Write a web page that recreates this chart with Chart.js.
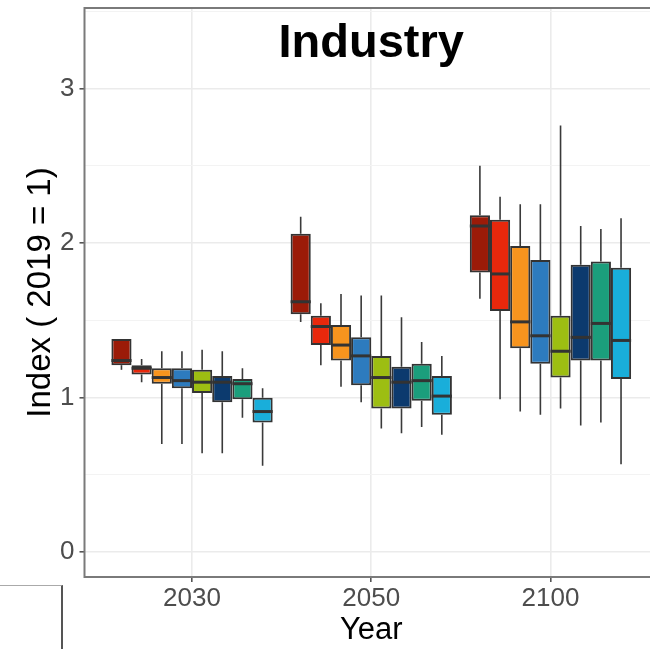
<!DOCTYPE html>
<html>
<head>
<meta charset="utf-8">
<script src="https://cdn.jsdelivr.net/npm/chart.js@4"></script>
<style>
  html, body { margin: 0; padding: 0; background: #fff; overflow: hidden; width: 650px; height: 649px; }
  #wrap { position: absolute; left: 0; top: 0; width: 660px; height: 649px; }
  #corner { position: absolute; left: 0; top: 585px; width: 61px; height: 80px;
            border-top: 1px solid #aaa; border-right: 2px solid #555; }
</style>
</head>
<body>
<div id="wrap"><canvas id="boxChart" width="660" height="649"></canvas></div>
<div id="corner"></div>
<script>
const years = ['2030', '2050', '2100'];
const seriesNames = ['S1', 'S2', 'S3', 'S4', 'S5', 'S6', 'S7', 'S8'];
const colors = ['#9B1B08', '#E8280C', '#F7941E', '#2D7BBE', '#9DBE12', '#0C3A6E', '#1B9E7C', '#19AEDA'];

// one row per series, one column per year
const whiskerLow = [
    [1.18, 1.49, 1.64],
    [1.10, 1.21, 0.99],
    [0.70, 1.07, 0.91],
    [0.70, 0.97, 0.89],
    [0.64, 0.80, 0.93],
    [0.64, 0.77, 0.82],
    [0.87, 0.81, 0.84],
    [0.56, 0.76, 0.57]
];
const lowerQuartile = [
    [1.21, 1.54, 1.81],
    [1.15, 1.34, 1.56],
    [1.09, 1.24, 1.32],
    [1.06, 1.08, 1.22],
    [1.03, 0.93, 1.13],
    [0.97, 0.93, 1.24],
    [0.99, 0.98, 1.24],
    [0.84, 0.89, 1.12]
];
const medians = [
    [1.24, 1.62, 2.11],
    [1.19, 1.46, 1.80],
    [1.13, 1.34, 1.49],
    [1.11, 1.27, 1.40],
    [1.10, 1.13, 1.30],
    [1.10, 1.10, 1.39],
    [1.09, 1.11, 1.48],
    [0.91, 1.01, 1.37]
];
const upperQuartile = [
    [1.38, 2.06, 2.18],
    [1.21, 1.53, 2.15],
    [1.19, 1.47, 1.98],
    [1.19, 1.39, 1.89],
    [1.18, 1.27, 1.53],
    [1.14, 1.20, 1.86],
    [1.12, 1.22, 1.88],
    [1.00, 1.14, 1.84]
];
const whiskerHigh = [
    [1.38, 2.17, 2.50],
    [1.25, 1.61, 2.30],
    [1.30, 1.67, 2.25],
    [1.30, 1.66, 2.25],
    [1.31, 1.66, 2.76],
    [1.30, 1.52, 2.11],
    [1.19, 1.36, 2.09],
    [1.06, 1.27, 2.16]
];
const yTicks = [0, 0.5, 1, 1.5, 2, 2.5, 3, 3.5];

const datasets = seriesNames.map((name, s) => ({
    label: name,
    data: years.map((y, i) => ({ x: i + 1, y: [lowerQuartile[s][i], upperQuartile[s][i]] })),
    backgroundColor: colors[s],
    borderColor: '#333333',
    borderWidth: 2,
    borderSkipped: false,
    categoryPercentage: 0.9,
    barPercentage: 1.0
}));

// whiskers, medians, panel border and the title
const boxExtras = {
    id: 'boxExtras',
    beforeDatasetsDraw(chart) {
        const ctx = chart.ctx;
        const yScale = chart.scales.y;
        ctx.save();
        ctx.strokeStyle = '#3a3a3a';
        ctx.lineWidth = 1.6;
        chart.data.datasets.forEach((ds, s) => {
            chart.getDatasetMeta(s).data.forEach((bar, i) => {
                ctx.beginPath();
                ctx.moveTo(bar.x, yScale.getPixelForValue(whiskerHigh[s][i]));
                ctx.lineTo(bar.x, yScale.getPixelForValue(upperQuartile[s][i]));
                ctx.moveTo(bar.x, yScale.getPixelForValue(lowerQuartile[s][i]));
                ctx.lineTo(bar.x, yScale.getPixelForValue(whiskerLow[s][i]));
                ctx.stroke();
            });
        });
        ctx.restore();
    },
    afterDatasetsDraw(chart) {
        const ctx = chart.ctx;
        const yScale = chart.scales.y;
        const area = chart.chartArea;
        ctx.save();
        ctx.strokeStyle = '#333333';
        ctx.lineWidth = 3;
        chart.data.datasets.forEach((ds, s) => {
            chart.getDatasetMeta(s).data.forEach((bar, i) => {
                const y = yScale.getPixelForValue(medians[s][i]);
                ctx.beginPath();
                ctx.moveTo(bar.x - bar.width / 2, y);
                ctx.lineTo(bar.x + bar.width / 2, y);
                ctx.stroke();
            });
        });
        ctx.strokeStyle = '#7a7a7a';
        ctx.lineWidth = 2;
        ctx.strokeRect(area.left, area.top, area.right - area.left, area.bottom - area.top);

        ctx.fillStyle = '#000';
        ctx.font = 'bold 47px "Liberation Sans", Arial, sans-serif';
        ctx.textAlign = 'center';
        ctx.textBaseline = 'alphabetic';
        ctx.fillText('Industry', (area.left + area.right) / 2, 57);
        ctx.restore();
    }
};

new Chart(document.getElementById('boxChart'), {
    type: 'bar',
    data: { datasets: datasets },
    options: {
        responsive: false,
        animation: false,
        layout: { autoPadding: false, padding: { top: 8, right: 2, left: 0, bottom: 0 } },
        plugins: { legend: { display: false }, tooltip: { enabled: false } },
        scales: {
            x: {
                type: 'linear',
                min: 0.4,
                max: 3.6,
                offset: false,
                afterBuildTicks: (scale) => { scale.ticks = years.map((y, i) => ({ value: i + 1 })); },
                afterFit: (scale) => {
                    scale.height = 72;
                    scale.paddingLeft = 0;
                    scale.paddingRight = 0;
                },
                ticks: {
                    autoSkip: false,
                    maxRotation: 0,
                    padding: 1,
                    color: '#4D4D4D',
                    font: { family: '"Liberation Sans", Arial, sans-serif', size: 26 },
                    callback: (v) => years[v - 1]
                },
                grid: { offset: false, color: '#EBEBEB', lineWidth: 1.6, tickColor: '#555', tickLength: 5 },
                border: { display: false },
                title: {
                    display: true,
                    text: 'Year',
                    color: '#000',
                    padding: 0,
                    font: { family: '"Liberation Sans", Arial, sans-serif', size: 31 }
                }
            },
            y: {
                min: -0.16,
                max: 3.52,
                afterBuildTicks: (scale) => { scale.ticks = yTicks.map(v => ({ value: v })); },
                afterFit: (scale) => {
                    scale.width = 84.5;
                    scale.paddingTop = 0;
                    scale.paddingBottom = 0;
                },
                ticks: {
                    autoSkip: false,
                    padding: 5,
                    color: '#4D4D4D',
                    font: { family: '"Liberation Sans", Arial, sans-serif', size: 26 },
                    callback: (v) => Number.isInteger(v) ? String(v) : ''
                },
                grid: {
                    color: (c) => Number.isInteger(c.tick.value) ? '#EBEBEB' : '#F3F3F3',
                    lineWidth: (c) => Number.isInteger(c.tick.value) ? 1.6 : 1,
                    tickColor: (c) => Number.isInteger(c.tick.value) ? '#555' : 'rgba(0,0,0,0)',
                    tickLength: 5
                },
                border: { display: false },
                title: {
                    display: true,
                    text: 'Index ( 2019 = 1)',
                    color: '#000',
                    padding: { top: 21, bottom: 0 },
                    font: { family: '"Liberation Sans", Arial, sans-serif', size: 33 }
                }
            }
        }
    },
    plugins: [boxExtras]
});
</script>
</body>
</html>
